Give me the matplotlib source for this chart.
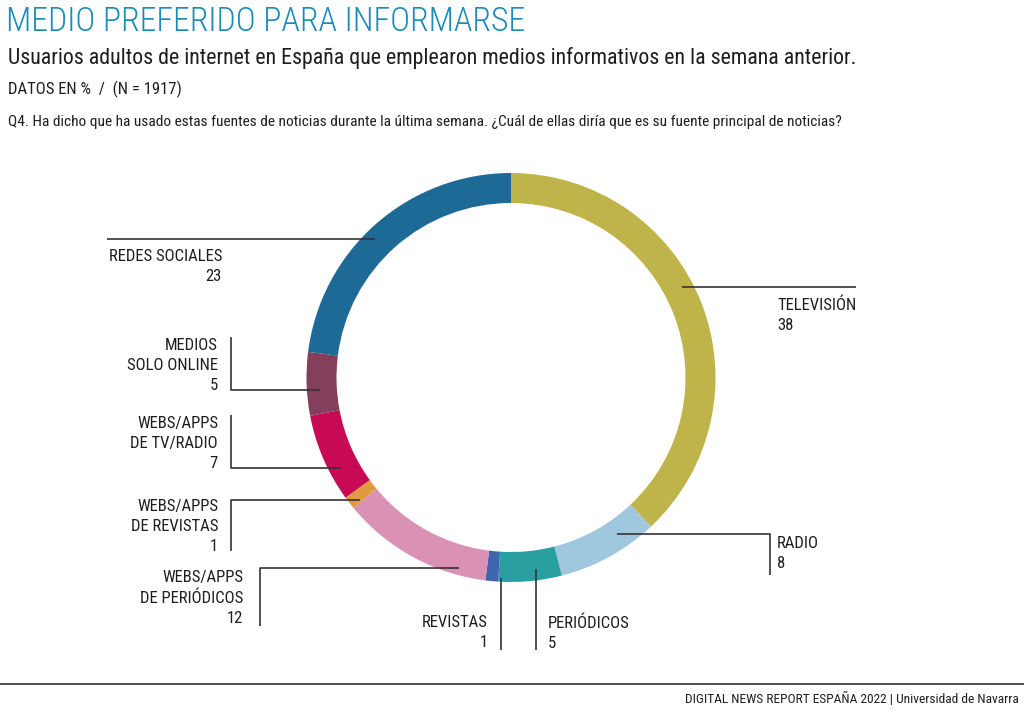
import numpy as np
import matplotlib
matplotlib.use("Agg")
import matplotlib.pyplot as plt

# datos (%)
medios = ["TELEVISIÓN", "RADIO", "PERIÓDICOS", "REVISTAS",
          "WEBS/APPS\nDE PERIÓDICOS", "WEBS/APPS\nDE REVISTAS",
          "WEBS/APPS\nDE TV/RADIO", "MEDIOS\nSOLO ONLINE", "REDES SOCIALES"]
valores = [38, 8, 5, 1, 12, 1, 7, 5, 23]
colores = ["#BFB44A", "#9FC8DE", "#2A9FA2", "#3E66B0", "#D991B4",
           "#E09B40", "#C80A55", "#843F5D", "#1E6A96"]

plt.rcParams['font.family'] = ['Roboto Condensed', 'Roboto', 'DejaVu Sans']
plt.rcParams['font.stretch'] = 'condensed'

W, H = 1024, 712
fig = plt.figure(figsize=(W / 100, H / 100), dpi=100)
ax = fig.add_axes([0, 0, 1, 1])

def py(y):
    # pixel y desde arriba -> coordenada del eje
    return H - y

cx, cy, r = 511, py(377.5), 204.5
ax.pie(valores, colors=colores, startangle=90, counterclock=False,
       center=(cx, cy), radius=r, frame=True,
       wedgeprops=dict(width=30, linewidth=0))
ax.set_xlim(0, W)
ax.set_ylim(0, H)
ax.set_aspect("equal")
ax.axis("off")

txt = "#1e1e1e"
# textos de cabecera
ax.text(6, py(22), "MEDIO PREFERIDO PARA INFORMARSE", color="#1A8CB8",
        fontsize=24.3, va="center", ha="left", fontweight="light")
ax.text(8, py(58), "Usuarios adultos de internet en España que emplearon medios informativos en la semana anterior.",
        color=txt, fontsize=15.75, va="center", ha="left")
ax.text(8, py(89), "DATOS EN %  /  (N = 1917)", color=txt, fontsize=12, va="center")
ax.text(8, py(122), "Q4. Ha dicho que ha usado estas fuentes de noticias durante la última semana. "
        "¿Cuál de ellas diría que es su fuente principal de noticias?",
        color=txt, fontsize=11.1, va="center")

# líneas guía y etiquetas (posiciones en píxeles)
lc = "#333333"
lw = 1.2
fs = 12

def linea(xs, ys):
    ax.plot(xs, [py(y) for y in ys], color=lc, lw=lw, solid_capstyle="butt")

def etiqueta(i, x, y, ha):
    ax.text(x, py(y + 2), medios[i] + "\n" + str(valores[i]), fontsize=fs,
            ha=ha, va="top", multialignment=ha, linespacing=1.42, color=txt)

# televisión
linea([682, 856], [287, 287])
etiqueta(0, 777, 295, "left")
# radio
linea([617, 770, 770], [534, 534, 575])
etiqueta(1, 777, 534, "left")
# periódicos
linea([536, 536], [569, 650])
etiqueta(2, 548, 613, "left")
# revistas
linea([501, 501], [578, 650])
etiqueta(3, 488, 613, "right")
# webs/apps periódicos
linea([459, 260, 260], [568, 568, 626])
etiqueta(4, 243, 568, "right")
# webs/apps revistas
linea([360, 231, 231], [500, 500, 551])
etiqueta(5, 218, 497, "right")
# webs/apps tv/radio
linea([341, 231, 231], [468, 468, 415])
etiqueta(6, 218, 414, "right")
# medios solo online
linea([320, 231, 231], [390, 390, 337])
etiqueta(7, 218, 336, "right")
# redes sociales
linea([107, 375], [239, 239])
etiqueta(8, 222, 247, "right")

# pie de página
linea([0, 1024], [684, 684])
ax.text(1019, py(699), "DIGITAL NEWS REPORT ESPAÑA 2022 | Universidad de Navarra",
        fontsize=9.6, ha="right", va="center", color=txt)

fig.savefig("out.png", dpi=100)
